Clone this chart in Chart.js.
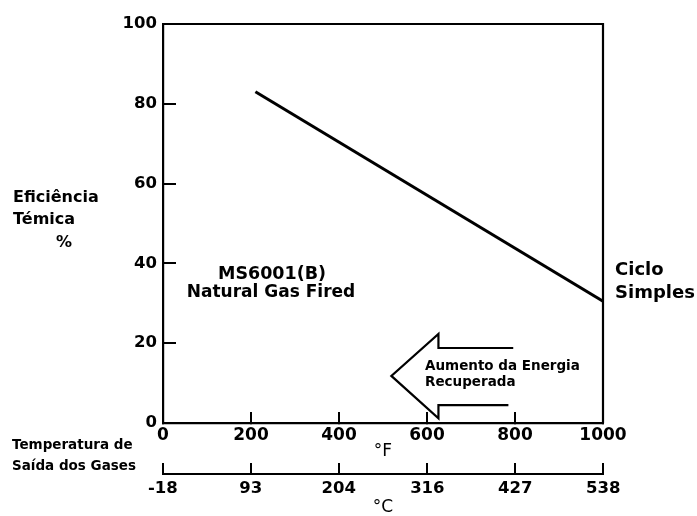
<!DOCTYPE html>
<html>
<head>
<meta charset="utf-8">
<script src="https://cdn.jsdelivr.net/npm/chart.js@4.4.1/dist/chart.umd.min.js"></script>
<style>
  html, body { margin: 0; padding: 0; background: #fff; }
  canvas { display: block; }
</style>
</head>
<body>
<canvas id="chart" width="697" height="516"></canvas>
<script>
// data
const tempF = [210, 1000];          // exhaust temperature, °F
const efficiency = [83, 30.5];      // thermal efficiency, %
const fTicks = [0, 200, 400, 600, 800, 1000];
const cTicks = [-18, 93, 204, 316, 427, 538];
const yTicks = [0, 20, 40, 60, 80, 100];
// hollow arrow outline, in °F / % units
const arrowF = [796, 626, 626, 519, 626, 626, 785];
const arrowPct = [18.8, 18.8, 22.3, 11.8, 1.2, 4.5, 4.5];

const BOLD = 'bold';
const FAM = 'DejaVu Sans';
Chart.defaults.font.family = FAM;
Chart.defaults.color = '#000';

const frame = {
  id: 'frame',
  afterDatasetsDraw(chart) {
    const { ctx, chartArea: a } = chart;
    ctx.save();
    ctx.strokeStyle = '#000';
    ctx.lineWidth = 2.2;
    ctx.beginPath();
    ctx.moveTo(a.left, a.top);
    ctx.lineTo(a.right, a.top);
    ctx.lineTo(a.right, a.bottom);
    ctx.stroke();
    ctx.restore();
  }
};

const notes = {
  id: 'notes',
  afterDraw(chart) {
    const { ctx, scales } = chart;
    const txt = (s, x, y, size, align, weight) => {
      ctx.font = (weight || BOLD) + ' ' + size + 'px "' + FAM + '"';
      ctx.textAlign = align || 'left';
      ctx.textBaseline = 'alphabetic';
      ctx.fillText(s, x, y);
    };
    ctx.save();
    ctx.fillStyle = '#000';
    txt('Eficiência', 13, 202, 16);
    txt('Témica', 13, 224, 16);
    txt('%', 64, 247, 16, 'center');
    txt('MS6001(B)', 272, 279, 17.5, 'center');
    txt('Natural Gas Fired', 271, 297, 17, 'center');
    txt('Ciclo', 615, 275, 18);
    txt('Simples', 615, 298, 18);
    txt('Aumento da Energia', 425, 370, 13.5);
    txt('Recuperada', 425, 386, 13.5);
    txt('Temperatura de', 12, 449, 13.5);
    txt('Saída dos Gases', 12, 470, 13.5);

    // arrow
    ctx.strokeStyle = '#000';
    ctx.lineWidth = 2.2;
    ctx.lineJoin = 'miter';
    ctx.beginPath();
    arrowF.forEach((f, i) => {
      const px = scales.x.getPixelForValue(f);
      const py = scales.y.getPixelForValue(arrowPct[i]);
      if (i === 0) ctx.moveTo(px, py); else ctx.lineTo(px, py);
    });
    ctx.stroke();
    ctx.restore();
  }
};

new Chart(document.getElementById('chart'), {
  type: 'line',
  data: {
    datasets: [{
      data: tempF.map((t, i) => ({ x: t, y: efficiency[i] })),
      borderColor: '#000',
      borderWidth: 3,
      pointRadius: 0,
      tension: 0,
      fill: false
    }]
  },
  options: {
    responsive: false,
    animation: false,
    layout: { padding: { top: 24, right: 94, bottom: 0, left: 0 } },
    plugins: { legend: { display: false }, tooltip: { enabled: false } },
    scales: {
      x: {
        type: 'linear',
        position: 'bottom',
        weight: 0,
        min: 0, max: 1000,
        afterBuildTicks: s => { s.ticks = fTicks.map(v => ({ value: v })); },
        afterFit: s => { s.height = 51; },
        ticks: { font: { size: 17, weight: BOLD }, padding: 13, maxRotation: 0, autoSkip: false, color: '#000', callback: v => String(v) },
        grid: { drawOnChartArea: false, tickLength: -11, color: '#000', lineWidth: 2 },
        border: { color: '#000', width: 2.2 },
        title: { display: true, text: '°F', font: { size: 17 }, padding: { top: 0, bottom: 12 }, color: '#000' }
      },
      xc: {
        type: 'linear',
        position: 'bottom',
        weight: 1,
        min: -17.78, max: 537.78,
        afterBuildTicks: s => { s.ticks = cTicks.map(v => ({ value: v })); },
        afterFit: s => { s.height = 42; },
        ticks: { font: { size: 16.5, weight: BOLD }, padding: 16, maxRotation: 0, autoSkip: false, color: '#000', callback: v => String(v) },
        grid: { drawOnChartArea: false, tickLength: -11, color: '#000', lineWidth: 2 },
        border: { color: '#000', width: 2 },
        title: { display: true, text: '°C', font: { size: 17, lineHeight: 1 }, padding: { top: 0, bottom: 0 }, color: '#000' }
      },
      y: {
        min: 0, max: 100,
        afterBuildTicks: s => { s.ticks = yTicks.map(v => ({ value: v })); },
        afterFit: s => { s.width = 163; s.paddingTop = 0; s.paddingBottom = 0; },
        ticks: { font: { size: 16.5, weight: BOLD }, padding: 19, color: '#000' },
        grid: { drawOnChartArea: false, tickLength: -13, color: '#000', lineWidth: 2 },
        border: { color: '#000', width: 2.2 }
      }
    }
  },
  plugins: [frame, notes]
});
</script>
</body>
</html>
